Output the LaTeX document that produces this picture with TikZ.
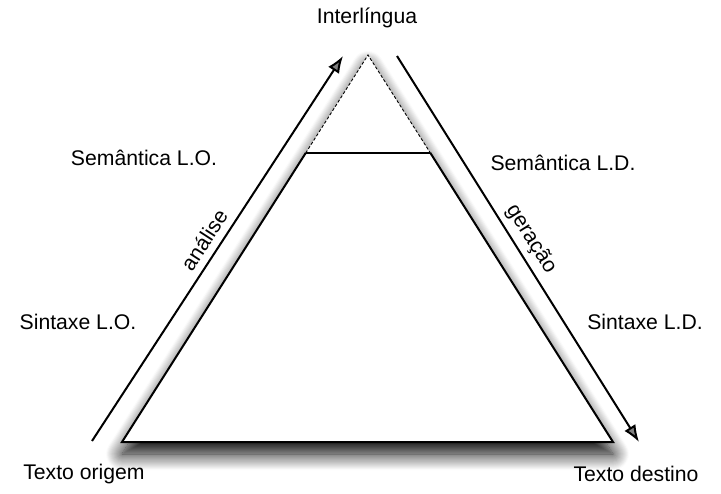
\documentclass[tikz,border=0pt]{standalone}
\usepackage{fontspec}
\setmainfont{Liberation Sans}
\usetikzlibrary{arrows.meta,shadows.blur}
\begin{document}
\begin{tikzpicture}[x=0.5pt,y=-0.5pt,
  lbl/.style={font=\fontsize{10.6pt}{12pt}\selectfont, inner sep=0pt},
  edge/.style={line width=1pt, black},
  flow/.style={line width=1pt, -{Latex[length=8.5pt,width=6.5pt]}},
  ]
\useasboundingbox (0,0) rectangle (721,493);
% triangle corners
\coordinate (A) at (368,55);
\coordinate (L) at (122,442);
\coordinate (R) at (613,442);
\coordinate (ML) at (305.7,153);
\coordinate (MR) at (430.4,153);
% shadowed white triangle
\path[fill=white, blur shadow={shadow xshift=0pt, shadow yshift=-6pt, shadow blur radius=8pt, shadow opacity=100, shadow blur steps=16}] (L) -- (R) -- (A) -- cycle;
% solid lower part
\draw[edge, line join=miter] (ML) -- (L) -- (R) -- (MR);
\draw[line width=0.8pt] (ML) -- (MR);
% dashed top
\draw[line width=0.45pt, dash pattern=on 1.5pt off 1pt] (ML) -- (A) -- (MR);
% arrows
\coordinate (a1) at (92,441);
\coordinate (a2) at (343,56);
\coordinate (b1) at (397,56);
\coordinate (b2) at (639,442);
\draw[flow] (a1) -- (a2);
\draw[flow] (b1) -- (b2);
% labels
\node[lbl] (inter) at (367,18) {Interlíngua};
\node[lbl] (semlo) at (144,158) {Semântica L.O.};
\node[lbl] (semld) at (563,163) {Semântica L.D.};
\node[lbl] (sinlo) at (78,322) {Sintaxe L.O.};
\node[lbl] (sinld) at (645,322) {Sintaxe L.D.};
\node[lbl] (orig) at (84,474) {Texto origem};
\node[lbl] (dest) at (636,474) {Texto destino};
\node[lbl, rotate=57] (anal) at (204,240) {análise};
\node[lbl, rotate=-58] (ger) at (531,239) {geração};
\end{tikzpicture}
\end{document}
